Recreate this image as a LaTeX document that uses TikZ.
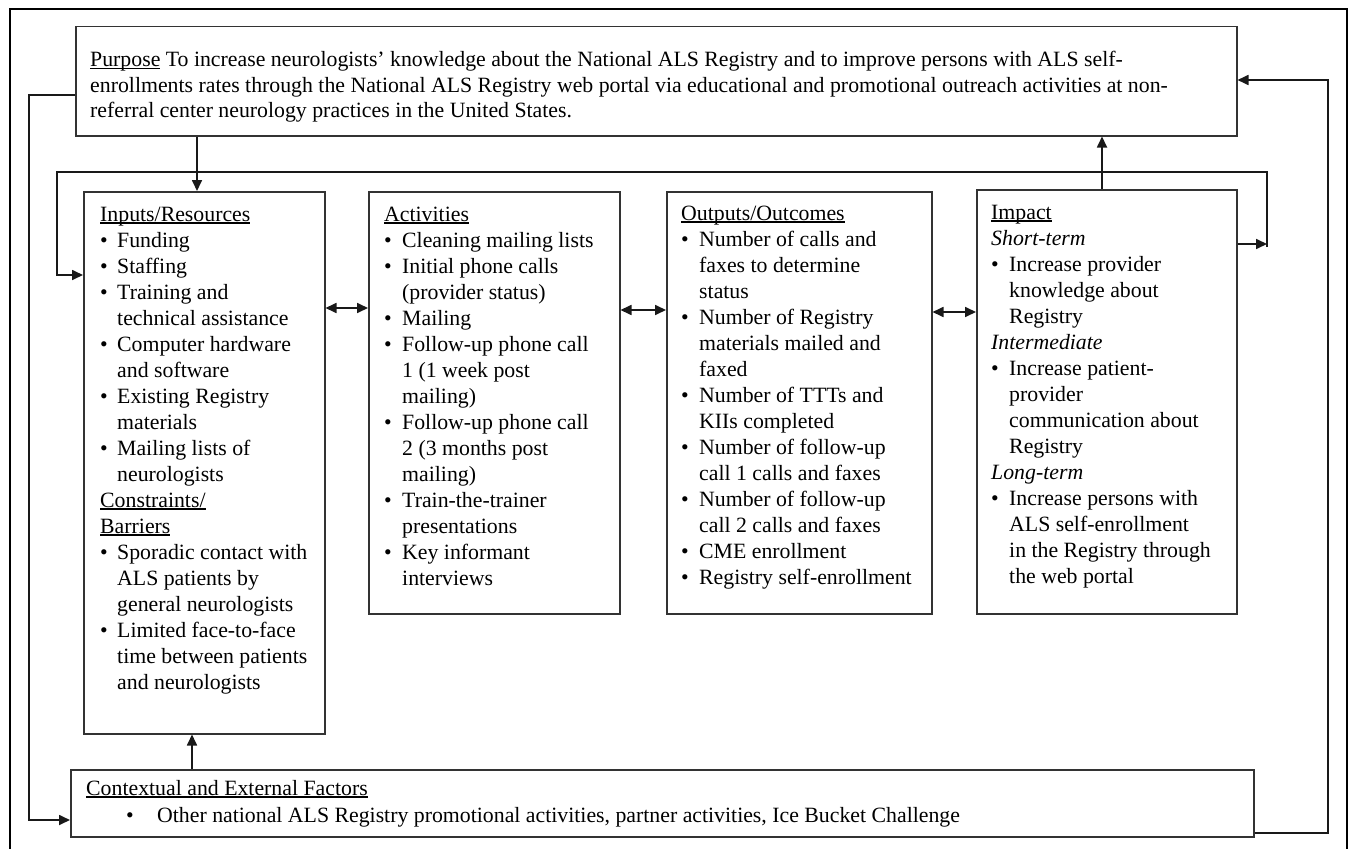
\documentclass[tikz,border=0pt]{standalone}
\usepackage{fontspec}
\setmainfont{Liberation Serif}
\usetikzlibrary{arrows.meta}
\newcommand\ulx[1]{\setbox0\hbox{#1}\rlap{\rule[-2.5pt]{\wd0}{1.2pt}}\box0\relax}
\newcommand\bu{\makebox[18pt][l]{\textbullet}}
\newcommand\ind{\hspace*{18pt}}
\begin{document}
\begin{tikzpicture}[x=1pt,y=-1pt,
  box/.style={draw=black!80, line width=1.5pt, anchor=north west, inner sep=0pt},
  txt/.style={font=\fontsize{21.8}{26}\selectfont, align=left, inner sep=0pt, anchor=base west},
  conn/.style={draw=black!90, line width=1.7pt},
  arr/.style={conn, -{Triangle[length=11pt,width=10pt]}},
  darr/.style={conn, {Triangle[length=11pt,width=10pt]}-{Triangle[length=11pt,width=10pt]}}]
\useasboundingbox (0,0) rectangle (1348,848);
\draw[line width=2pt] (10,850) -- (10,9) -- (1347,9) -- (1347,850);

% boxes
\node[box, minimum width=1161pt, minimum height=109pt] (purpose) at (75,26) {};
\node[box, minimum width=241pt, minimum height=542pt] (inputs) at (83,191) {};
\node[box, minimum width=251pt, minimum height=422pt] (acts) at (368,191) {};
\node[box, minimum width=265pt, minimum height=422pt] (outs) at (666,191) {};
\node[box, minimum width=260pt, minimum height=424pt] (impact) at (976,189) {};
\node[box, minimum width=1183pt, minimum height=67pt] (context) at (70,769) {};

% texts (anchored at the baseline of their last line)
\node[txt, font=\fontsize{21.8}{25.3}\selectfont] (purposeT) at (90,117.6) {\ulx{Purpose} To increase neurologists’ knowledge about the National ALS Registry and to improve persons with ALS self-\\
enrollments rates through the National ALS Registry web portal via educational and promotional outreach activities at non-\\
referral center neurology practices in the United States.};

\node[txt] (inputsT) at (100,689) {\ulx{Inputs/Resources}\\
\makebox[17pt][l]{\textbullet}Funding\\
\makebox[17pt][l]{\textbullet}Staffing\\
\makebox[17pt][l]{\textbullet}Training and\\
\hspace*{17pt}technical assistance\\
\makebox[17pt][l]{\textbullet}Computer hardware\\
\hspace*{17pt}and software\\
\makebox[17pt][l]{\textbullet}Existing Registry\\
\hspace*{17pt}materials\\
\makebox[17pt][l]{\textbullet}Mailing lists of\\
\hspace*{17pt}neurologists\\
\ulx{Constraints/}\\
\ulx{Barriers}\\
\makebox[17pt][l]{\textbullet}Sporadic contact with\\
\hspace*{17pt}ALS patients by\\
\hspace*{17pt}general neurologists\\
\makebox[17pt][l]{\textbullet}Limited face-to-face\\
\hspace*{17pt}time between patients\\
\hspace*{17pt}and neurologists};

\node[txt] (actsT) at (384,585) {\ulx{Activities}\\
\bu Cleaning mailing lists\\
\bu Initial phone calls\\
\ind (provider status)\\
\bu Mailing\\
\bu Follow-up phone call\\
\ind 1 (1 week post\\
\ind mailing)\\
\bu Follow-up phone call\\
\ind 2 (3 months post\\
\ind mailing)\\
\bu Train-the-trainer\\
\ind presentations\\
\bu Key informant\\
\ind interviews};

\node[txt] (outsT) at (681,584) {\ulx{Outputs/Outcomes}\\
\bu Number of calls and\\
\ind faxes to determine\\
\ind status\\
\bu Number of Registry\\
\ind materials mailed and\\
\ind faxed\\
\bu Number of TTTs and\\
\ind KIIs completed\\
\bu Number of follow-up\\
\ind call 1 calls and faxes\\
\bu Number of follow-up\\
\ind call 2 calls and faxes\\
\bu CME enrollment\\
\bu Registry self-enrollment};

\node[txt] (impactT) at (991,583) {\ulx{Impact}\\
\textit{Short-term}\\
\bu Increase provider\\
\ind knowledge about\\
\ind Registry\\
\textit{Intermediate}\\
\bu Increase patient-\\
\ind provider\\
\ind communication about\\
\ind Registry\\
\textit{Long-term}\\
\bu Increase persons with\\
\ind ALS self-enrollment\\
\ind in the Registry through\\
\ind the web portal};

\node[txt, font=\fontsize{21.8}{27}\selectfont] (contextT) at (86,822) {\ulx{Contextual and External Factors}\\
\hspace*{40pt}\makebox[31pt][l]{\textbullet}Other national ALS Registry promotional activities, partner activities, Ice Bucket Challenge};

% helper coordinates
\coordinate (xPD) at (197,0);
\coordinate (xCU) at (192,0);
\coordinate (xIU) at (1102,0);
\coordinate (yA) at (0,308);
\coordinate (yB) at (0,310);
\coordinate (yC) at (0,312);
\coordinate (yL) at (0,95);
\coordinate (xLL) at (29,0);
\coordinate (yCtx) at (0,820);
\coordinate (xRR) at (1328,0);
\coordinate (yR) at (0,80);
\coordinate (yCR) at (0,833);
\coordinate (LP) at (1267,172);
\coordinate (LQ) at (57,172);
\coordinate (yImp) at (0,244);
\coordinate (yImp2) at (0,247);
\coordinate (yIn) at (0,275);

% connectors
\draw[arr] (purpose.south -| xPD) -- (inputs.north -| xPD);
\draw[arr] (context.north -| xCU) -- (inputs.south -| xCU);
\draw[arr] (impact.north -| xIU) -- (purpose.south -| xIU);
\draw[darr] (inputs.east |- yA) -- (acts.west |- yA);
\draw[darr] (acts.east |- yB) -- (outs.west |- yB);
\draw[darr] (outs.east |- yC) -- (impact.west |- yC);
\draw[arr] (purpose.west |- yL) -- (xLL |- yL) -- (xLL |- yCtx) -- (context.west |- yCtx);
\draw[arr] (context.east |- yCR) -- (xRR |- yCR) -- (xRR |- yR) -- (purpose.east |- yR);
\draw[arr] (impact.east |- yImp) -- (LP |- yImp);
\draw[arr] (LP |- yImp2) -- (LP) -- (LQ) -- (LQ |- yIn) -- (inputs.west |- yIn);
\end{tikzpicture}
\end{document}
